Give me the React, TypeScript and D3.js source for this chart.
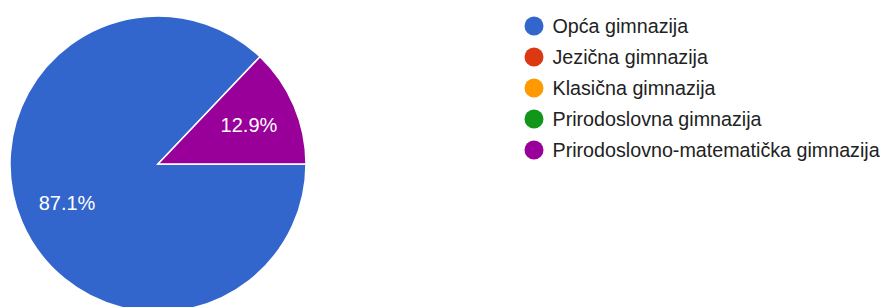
import React, { useEffect, useRef } from 'react';
import * as d3 from 'd3';

const categories = [
  'Opća gimnazija',
  'Jezična gimnazija',
  'Klasična gimnazija',
  'Prirodoslovna gimnazija',
  'Prirodoslovno-matematička gimnazija',
];
const values = [87.1, 0, 0, 0, 12.9];
const colors = ['#3366cc', '#dc3912', '#ff9900', '#109618', '#990099'];

type Slice = { name: string; value: number; color: string };

const App: React.FC = () => {
  const svgRef = useRef<SVGSVGElement>(null);

  useEffect(() => {
    if (!svgRef.current) return;
    const svg = d3.select(svgRef.current);
    svg.selectAll('*').remove();

    const width = 883;
    const height = 307;
    const cx = 158;
    const cy = 164;
    const radius = 148;

    const data: Slice[] = categories.map((name, i) => ({ name, value: values[i], color: colors[i] }));

    const pie = d3
      .pie<Slice>()
      .value(d => d.value)
      .sort(null)
      .startAngle(Math.PI / 2)
      .endAngle(Math.PI / 2 + 2 * Math.PI);

    const arc = d3.arc<d3.PieArcDatum<Slice>>().innerRadius(0).outerRadius(radius);
    const labelArc = d3.arc<d3.PieArcDatum<Slice>>().innerRadius(99).outerRadius(99);

    const g = svg.append('g').attr('transform', `translate(${cx},${cy})`);
    const arcs = pie(data).filter(d => d.data.value > 0);

    g.selectAll('path')
      .data(arcs)
      .enter()
      .append('path')
      .attr('d', arc)
      .attr('fill', d => d.data.color)
      .attr('stroke', '#fff')
      .attr('stroke-width', 1.5);

    g.selectAll('.slice-label')
      .data(arcs)
      .enter()
      .append('text')
      .attr('class', 'slice-label')
      .attr('transform', d => `translate(${labelArc.centroid(d)})`)
      .attr('text-anchor', 'middle')
      .attr('dy', '0.35em')
      .style('font-family', 'Arial, "Liberation Sans", sans-serif')
      .style('font-size', '20px')
      .style('fill', '#fff')
      .text(d => `${d.data.value.toFixed(1)}%`);

    // legend
    const legendY = d3.scalePoint<string>().domain(categories).range([26, 150]);
    const legend = svg
      .selectAll('.legend')
      .data(data)
      .enter()
      .append('g')
      .attr('class', 'legend')
      .attr('transform', d => `translate(534,${legendY(d.name)})`);

    legend.append('circle').attr('r', 9.5).attr('fill', d => d.color);

    legend
      .append('text')
      .attr('x', 18.5)
      .attr('dy', '0.35em')
      .style('font-family', 'Arial, "Liberation Sans", sans-serif')
      .style('font-size', '19.7px')
      .style('fill', '#222')
      .text(d => d.name);

    svg.attr('width', width).attr('height', height);
  }, []);

  return <svg ref={svgRef} style={{ position: 'absolute', left: 0, top: 0, display: 'block' }} width={883} height={307} />;
};

export default App;
